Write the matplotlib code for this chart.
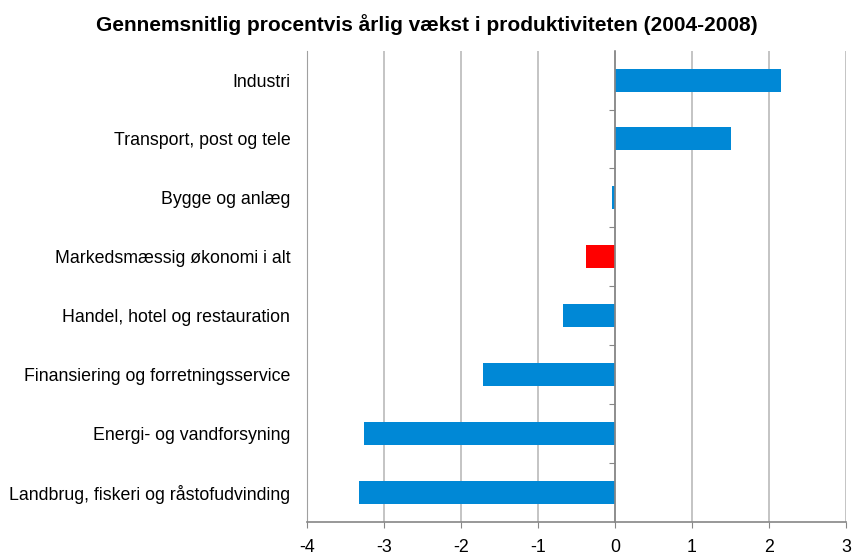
import matplotlib.pyplot as plt
import numpy as np

categories = ["Industri", "Transport, post og tele", "Bygge og anlæg",
              "Markedsmæssig økonomi i alt", "Handel, hotel og restauration",
              "Finansiering og forretningsservice", "Energi- og vandforsyning",
              "Landbrug, fiskeri og råstofudvinding"]
values = [2.16, 1.51, -0.04, -0.38, -0.67, -1.71, -3.26, -3.33]
highlight = "Markedsmæssig økonomi i alt"
xticks = [-4, -3, -2, -1, 0, 1, 2, 3]

plt.rcParams['font.family'] = ['Liberation Sans', 'DejaVu Sans']

fig = plt.figure(figsize=(8.54, 5.56), dpi=100)
ax = fig.add_axes([307/854, 1-522/556, (846-307)/854, (522-50.6)/556])

y = np.arange(len(categories))
colors = ["#FF0000" if c == highlight else "#0088D6" for c in categories]
ax.barh(y, values, height=0.39, color=colors, zorder=3)

ax.set_xlim(-4, 3)
ax.set_ylim(len(categories) - 0.5, -0.5)
ax.set_xticks(xticks)
ax.set_xticklabels([str(t) for t in xticks], fontsize=12.8)
ax.set_yticks(y)
ax.set_yticklabels(categories, fontsize=12.8)
ax.tick_params(axis='y', length=0, pad=12)
ax.tick_params(axis='x', length=4.5, color="#868686", pad=8)
ax.grid(axis='x', color="#BFBFBF", linewidth=1.3, zorder=0)

for s in ['top', 'right']:
    ax.spines[s].set_visible(False)
ax.spines['left'].set_color("#A0A0A0")
ax.spines['bottom'].set_color("#868686")
ax.spines['bottom'].set_linewidth(1.2)

# vertical category axis crossing at zero
sec = ax.secondary_yaxis((0 - xticks[0]) / (xticks[-1] - xticks[0]))
sec.set_zorder(5)
sec.set_yticks(np.arange(len(categories) - 1) + 0.5)
sec.set_yticklabels([])
for sp in sec.spines.values():
    sp.set_edgecolor("#868686")
    sp.set_linewidth(1.2)
sec.tick_params(axis='y', length=4.5, color="#868686", direction='in')

fig.suptitle("Gennemsnitlig procentvis årlig vækst i produktiviteten (2004-2008)",
             fontsize=15, fontweight='bold', x=0.5, y=0.975)

fig.savefig("out.png", dpi=100)
